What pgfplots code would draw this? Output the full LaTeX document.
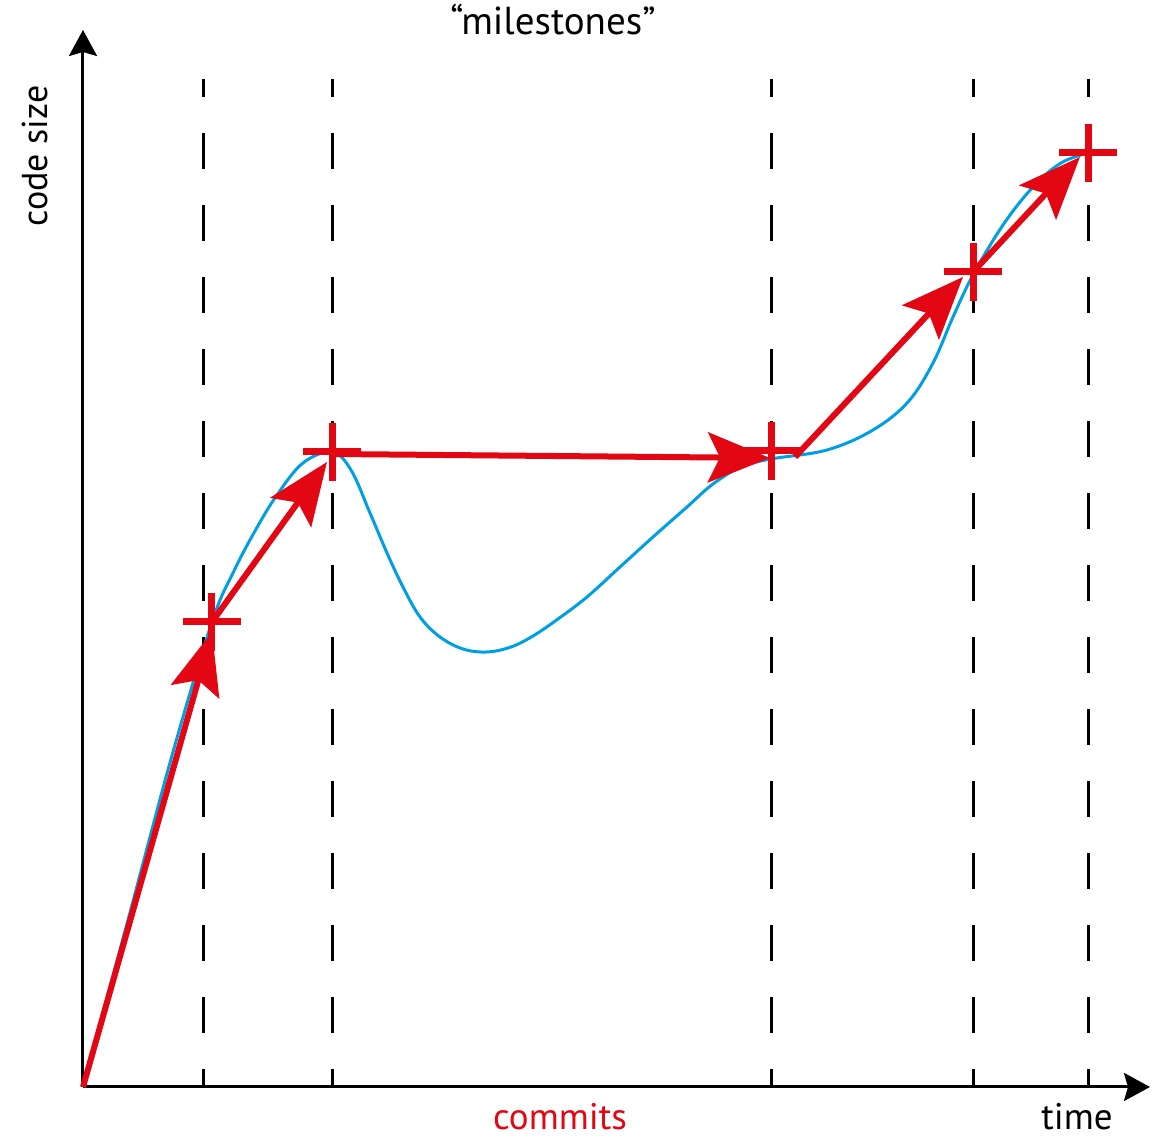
\documentclass[border=0pt]{standalone}
\usepackage{pgfplots}
\pgfplotsset{compat=1.18}
\usepackage{fontspec}
\setmainfont{PT Sans}
\usetikzlibrary{arrows.meta}
\definecolor{cblue}{RGB}{0,159,227}
\definecolor{cred}{RGB}{227,6,19}
\begin{document}
\begin{tikzpicture}
\begin{axis}[
  x=0.5pt, y=0.5pt,
  xmin=0, xmax=1067, ymin=0, ymax=1057,
  enlargelimits=false,
  axis lines=left,
  axis line style={line width=1.5pt, -{Stealth[length=13pt,width=14pt,inset=2pt]}},
  xtick=\empty, ytick=\empty,
  clip=false,
]
% milestone dashed lines
\addplot[black, line width=1.5pt, dash pattern=on 18pt off 18pt, dash phase=9pt] coordinates {(121,1008) (121,0)};
\addplot[black, line width=1.5pt, dash pattern=on 18pt off 18pt, dash phase=9pt] coordinates {(249,1008) (249,0)};
\addplot[black, line width=1.5pt, dash pattern=on 18pt off 18pt, dash phase=9pt] coordinates {(688,1008) (688,0)};
\addplot[black, line width=1.5pt, dash pattern=on 18pt off 18pt, dash phase=9pt] coordinates {(890,1008) (890,0)};
\addplot[black, line width=1.5pt, dash pattern=on 18pt off 18pt, dash phase=9pt] coordinates {(1005,1008) (1005,0)};
% code size curve
\addplot[cblue, line width=1.5pt, smooth, tension=0.6] coordinates {
(0,0) (45,167) (90,335) (129,465) (150,514) (172,556) (194,592)
(220,624) (249,635) (268,617) (287,574) (304,534) (320,500) (337,470)
(357,450) (380,438) (404,435) (428,440) (450,451) (475,468) (504,490)
(537,520) (570,550) (604,580) (630,603) (658,620) (688,628)
(744,637) (790,657) (825,685) (850,724) (870,770) (890,812) (920,862)
(950,900) (978,924) (1005,934)};
% commits arrows
\addplot[cred, line width=3pt, -{Stealth[length=31pt,width=25pt,inset=6pt]}] coordinates {(0,0) (129,455)};
\addplot[cred, line width=3pt, -{Stealth[length=31pt,width=25pt,inset=6pt]}] coordinates {(129,465) (244,625)};
\addplot[cred, line width=3pt, -{Stealth[length=31pt,width=25pt,inset=6pt]}] coordinates {(249,633) (687,629)};
\addplot[cred, line width=3pt, -{Stealth[length=31pt,width=25pt,inset=6pt]}] coordinates {(712,630) (880,810)};
\addplot[cred, line width=3pt, -{Stealth[length=31pt,width=25pt,inset=6pt]}] coordinates {(890,815) (997,930)};
% milestone markers
\addplot[cred, only marks, mark=+, mark size=14.5pt, line width=3.5pt] coordinates {
(129,465) (249,635) (688,636) (890,815) (1005,934)};
% labels
\node[font=\fontsize{19.5}{22}\selectfont, anchor=base] at (axis cs:470,1052) {“milestones”};
\node[font=\fontsize{18}{22}\selectfont, rotate=90, anchor=base] at (axis cs:-35,931) {code size};
\node[font=\fontsize{18.5}{22}\selectfont, text=cred, anchor=base] at (axis cs:477,-43) {commits};
\node[font=\fontsize{18.5}{22}\selectfont, anchor=base] at (axis cs:994,-43) {time};
\coordinate (BL) at (axis cs:-83,-51);
\coordinate (TR) at (axis cs:1076,1087);
\end{axis}
\pgfresetboundingbox
\path[use as bounding box] (BL) rectangle (TR);
\end{tikzpicture}
\end{document}
